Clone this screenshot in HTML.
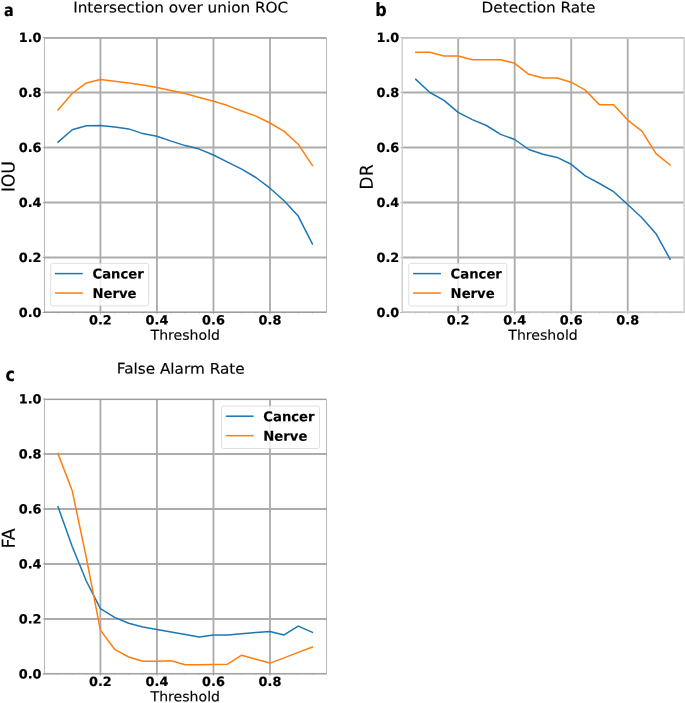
<!DOCTYPE html>
<html lang="en">
<head>
<meta charset="utf-8">
<title>ROC curves</title>
<style>
html,body{margin:0;padding:0;background:#ffffff;}
body{width:685px;height:703px;overflow:hidden;}
svg{display:block;}
svg text{font-family:"DejaVu Sans", "Liberation Sans", sans-serif;fill:#000000;}
</style>
</head>
<body>
<svg width="685" height="703" viewBox="0 0 685 703">
<defs><filter id="soft" x="0" y="0" width="685" height="703" filterUnits="userSpaceOnUse"><feGaussianBlur stdDeviation="0.36"/></filter></defs>
<rect x="0" y="0" width="685" height="703" fill="#ffffff"/>
<g filter="url(#soft)">
<rect x="0" y="0" width="685" height="703" fill="#ffffff"/>
<line x1="100.42" y1="37.68" x2="100.42" y2="312.78" stroke="#acacac" stroke-width="1.85"/>
<line x1="100.42" y1="312.48" x2="100.42" y2="314.18" stroke="#a0a0a0" stroke-width="0.9"/>
<line x1="156.94" y1="37.68" x2="156.94" y2="312.78" stroke="#acacac" stroke-width="1.85"/>
<line x1="156.94" y1="312.48" x2="156.94" y2="314.18" stroke="#a0a0a0" stroke-width="0.9"/>
<line x1="213.46" y1="37.68" x2="213.46" y2="312.78" stroke="#acacac" stroke-width="1.85"/>
<line x1="213.46" y1="312.48" x2="213.46" y2="314.18" stroke="#a0a0a0" stroke-width="0.9"/>
<line x1="269.98" y1="37.68" x2="269.98" y2="312.78" stroke="#acacac" stroke-width="1.85"/>
<line x1="269.98" y1="312.48" x2="269.98" y2="314.18" stroke="#a0a0a0" stroke-width="0.9"/>
<rect x="44.20" y="311.43" width="282.30" height="0.95" fill="#c4c4c4"/>
<line x1="42.80" y1="312.53" x2="326.50" y2="312.53" stroke="#8e8e8e" stroke-width="0.85"/>
<line x1="58.03" y1="312.78" x2="58.03" y2="313.48" stroke="#a0a0a0" stroke-width="0.8"/>
<line x1="72.16" y1="312.78" x2="72.16" y2="313.48" stroke="#a0a0a0" stroke-width="0.8"/>
<line x1="86.29" y1="312.78" x2="86.29" y2="313.48" stroke="#a0a0a0" stroke-width="0.8"/>
<line x1="114.55" y1="312.78" x2="114.55" y2="313.48" stroke="#a0a0a0" stroke-width="0.8"/>
<line x1="128.68" y1="312.78" x2="128.68" y2="313.48" stroke="#a0a0a0" stroke-width="0.8"/>
<line x1="142.81" y1="312.78" x2="142.81" y2="313.48" stroke="#a0a0a0" stroke-width="0.8"/>
<line x1="171.07" y1="312.78" x2="171.07" y2="313.48" stroke="#a0a0a0" stroke-width="0.8"/>
<line x1="185.20" y1="312.78" x2="185.20" y2="313.48" stroke="#a0a0a0" stroke-width="0.8"/>
<line x1="199.33" y1="312.78" x2="199.33" y2="313.48" stroke="#a0a0a0" stroke-width="0.8"/>
<line x1="227.59" y1="312.78" x2="227.59" y2="313.48" stroke="#a0a0a0" stroke-width="0.8"/>
<line x1="241.72" y1="312.78" x2="241.72" y2="313.48" stroke="#a0a0a0" stroke-width="0.8"/>
<line x1="255.85" y1="312.78" x2="255.85" y2="313.48" stroke="#a0a0a0" stroke-width="0.8"/>
<line x1="284.11" y1="312.78" x2="284.11" y2="313.48" stroke="#a0a0a0" stroke-width="0.8"/>
<line x1="298.24" y1="312.78" x2="298.24" y2="313.48" stroke="#a0a0a0" stroke-width="0.8"/>
<line x1="312.37" y1="312.78" x2="312.37" y2="313.48" stroke="#a0a0a0" stroke-width="0.8"/>
<line x1="42.80" y1="312.48" x2="44.50" y2="312.48" stroke="#a0a0a0" stroke-width="0.9"/>
<line x1="44.20" y1="257.48" x2="326.50" y2="257.48" stroke="#acacac" stroke-width="1.85"/>
<line x1="42.80" y1="257.48" x2="44.50" y2="257.48" stroke="#a0a0a0" stroke-width="0.9"/>
<line x1="44.20" y1="202.48" x2="326.50" y2="202.48" stroke="#acacac" stroke-width="1.85"/>
<line x1="42.80" y1="202.48" x2="44.50" y2="202.48" stroke="#a0a0a0" stroke-width="0.9"/>
<line x1="44.20" y1="147.48" x2="326.50" y2="147.48" stroke="#acacac" stroke-width="1.85"/>
<line x1="42.80" y1="147.48" x2="44.50" y2="147.48" stroke="#a0a0a0" stroke-width="0.9"/>
<line x1="44.20" y1="92.48" x2="326.50" y2="92.48" stroke="#acacac" stroke-width="1.85"/>
<line x1="42.80" y1="92.48" x2="44.50" y2="92.48" stroke="#a0a0a0" stroke-width="0.9"/>
<rect x="44.20" y="37.03" width="282.30" height="1.55" fill="#acacac"/>
<line x1="42.80" y1="37.48" x2="44.50" y2="37.48" stroke="#a0a0a0" stroke-width="0.9"/>
<polyline points="58.0,142.1 72.2,129.7 86.3,125.8 100.4,125.4 114.6,127.0 128.7,128.9 142.8,133.6 156.9,136.2 171.1,141.1 185.2,145.6 199.3,149.1 213.5,155.0 227.6,162.1 241.7,169.1 255.9,177.5 270.0,188.2 284.1,200.8 298.2,216.1 312.4,244.0" fill="none" stroke="#1f77b4" stroke-width="1.52" stroke-linejoin="round" stroke-linecap="square"/>
<polyline points="58.0,109.9 72.2,93.5 86.3,82.9 100.4,79.6 114.6,81.2 128.7,83.1 142.8,84.9 156.9,87.4 171.1,90.4 185.2,93.4 199.3,97.6 213.5,101.2 227.6,105.6 241.7,111.0 255.9,116.1 270.0,123.0 284.1,131.4 298.2,144.2 312.4,165.5" fill="none" stroke="#ff7f0e" stroke-width="1.52" stroke-linejoin="round" stroke-linecap="square"/>
<rect x="44.50" y="38.18" width="281.85" height="273.80" fill="none" stroke="#9a9a9a" stroke-width="0.7"/>
<text transform="translate(41.50,317.03) rotate(0.03) scale(1.005,1)" text-anchor="end" font-weight="bold" stroke="#000" stroke-width="0.2" font-size="12.8">0.0</text>
<text transform="translate(41.50,262.03) rotate(0.03) scale(1.005,1)" text-anchor="end" font-weight="bold" stroke="#000" stroke-width="0.2" font-size="12.8">0.2</text>
<text transform="translate(41.50,207.03) rotate(0.03) scale(1.005,1)" text-anchor="end" font-weight="bold" stroke="#000" stroke-width="0.2" font-size="12.8">0.4</text>
<text transform="translate(41.50,152.03) rotate(0.03) scale(1.005,1)" text-anchor="end" font-weight="bold" stroke="#000" stroke-width="0.2" font-size="12.8">0.6</text>
<text transform="translate(41.50,97.03) rotate(0.03) scale(1.005,1)" text-anchor="end" font-weight="bold" stroke="#000" stroke-width="0.2" font-size="12.8">0.8</text>
<text transform="translate(41.50,42.03) rotate(0.03) scale(1.005,1)" text-anchor="end" font-weight="bold" stroke="#000" stroke-width="0.2" font-size="12.8">1.0</text>
<text transform="translate(100.42,324.48) rotate(0.03) scale(1.005,1)" text-anchor="middle" font-weight="bold" stroke="#000" stroke-width="0.2" font-size="12.8">0.2</text>
<text transform="translate(156.94,324.48) rotate(0.03) scale(1.005,1)" text-anchor="middle" font-weight="bold" stroke="#000" stroke-width="0.2" font-size="12.8">0.4</text>
<text transform="translate(213.46,324.48) rotate(0.03) scale(1.005,1)" text-anchor="middle" font-weight="bold" stroke="#000" stroke-width="0.2" font-size="12.8">0.6</text>
<text transform="translate(269.98,324.48) rotate(0.03) scale(1.005,1)" text-anchor="middle" font-weight="bold" stroke="#000" stroke-width="0.2" font-size="12.8">0.8</text>
<text transform="translate(185.30,339.78) rotate(0.03) scale(1.037,1)" text-anchor="middle" stroke="#000" stroke-width="0.14" font-size="13.6">Threshold</text>
<text transform="translate(14.55,176.70) rotate(-89.97) scale(0.97,1)" text-anchor="middle" stroke="#000" stroke-width="0.14" font-size="17.8">IOU</text>
<text transform="translate(180.70,12.45) rotate(0.03) scale(1.045,1)" text-anchor="middle" stroke="#000" stroke-width="0.14" font-size="14.6">Intersection over union ROC</text>
<rect x="50.7" y="263.4" width="98" height="42.5" rx="2.2" ry="2.2" fill="#ffffff" fill-opacity="0.8" stroke="#cccccc" stroke-opacity="0.8" stroke-width="0.8"/>
<line x1="55.0" y1="273.6" x2="82.8" y2="273.6" stroke="#1f77b4" stroke-width="1.52"/>
<line x1="55.0" y1="293.05" x2="82.8" y2="293.05" stroke="#ff7f0e" stroke-width="1.52"/>
<text transform="translate(92.50,278.60) rotate(0.03) scale(0.978,1)" font-weight="bold" stroke="#000" stroke-width="0.14" font-size="13.5">Cancer</text>
<text transform="translate(92.50,298.10) rotate(0.03) scale(0.978,1)" font-weight="bold" stroke="#000" stroke-width="0.14" font-size="13.5">Nerve</text>
<line x1="458.17" y1="37.68" x2="458.17" y2="312.78" stroke="#acacac" stroke-width="1.85"/>
<line x1="458.17" y1="312.48" x2="458.17" y2="314.18" stroke="#a0a0a0" stroke-width="0.9"/>
<line x1="514.69" y1="37.68" x2="514.69" y2="312.78" stroke="#acacac" stroke-width="1.85"/>
<line x1="514.69" y1="312.48" x2="514.69" y2="314.18" stroke="#a0a0a0" stroke-width="0.9"/>
<line x1="571.21" y1="37.68" x2="571.21" y2="312.78" stroke="#acacac" stroke-width="1.85"/>
<line x1="571.21" y1="312.48" x2="571.21" y2="314.18" stroke="#a0a0a0" stroke-width="0.9"/>
<line x1="627.73" y1="37.68" x2="627.73" y2="312.78" stroke="#acacac" stroke-width="1.85"/>
<line x1="627.73" y1="312.48" x2="627.73" y2="314.18" stroke="#a0a0a0" stroke-width="0.9"/>
<rect x="401.95" y="311.43" width="282.30" height="0.95" fill="#c4c4c4"/>
<line x1="400.55" y1="312.53" x2="684.25" y2="312.53" stroke="#8e8e8e" stroke-width="0.85"/>
<line x1="415.78" y1="312.78" x2="415.78" y2="313.48" stroke="#a0a0a0" stroke-width="0.8"/>
<line x1="429.91" y1="312.78" x2="429.91" y2="313.48" stroke="#a0a0a0" stroke-width="0.8"/>
<line x1="444.04" y1="312.78" x2="444.04" y2="313.48" stroke="#a0a0a0" stroke-width="0.8"/>
<line x1="472.30" y1="312.78" x2="472.30" y2="313.48" stroke="#a0a0a0" stroke-width="0.8"/>
<line x1="486.43" y1="312.78" x2="486.43" y2="313.48" stroke="#a0a0a0" stroke-width="0.8"/>
<line x1="500.56" y1="312.78" x2="500.56" y2="313.48" stroke="#a0a0a0" stroke-width="0.8"/>
<line x1="528.82" y1="312.78" x2="528.82" y2="313.48" stroke="#a0a0a0" stroke-width="0.8"/>
<line x1="542.95" y1="312.78" x2="542.95" y2="313.48" stroke="#a0a0a0" stroke-width="0.8"/>
<line x1="557.08" y1="312.78" x2="557.08" y2="313.48" stroke="#a0a0a0" stroke-width="0.8"/>
<line x1="585.34" y1="312.78" x2="585.34" y2="313.48" stroke="#a0a0a0" stroke-width="0.8"/>
<line x1="599.47" y1="312.78" x2="599.47" y2="313.48" stroke="#a0a0a0" stroke-width="0.8"/>
<line x1="613.60" y1="312.78" x2="613.60" y2="313.48" stroke="#a0a0a0" stroke-width="0.8"/>
<line x1="641.86" y1="312.78" x2="641.86" y2="313.48" stroke="#a0a0a0" stroke-width="0.8"/>
<line x1="655.99" y1="312.78" x2="655.99" y2="313.48" stroke="#a0a0a0" stroke-width="0.8"/>
<line x1="670.12" y1="312.78" x2="670.12" y2="313.48" stroke="#a0a0a0" stroke-width="0.8"/>
<line x1="400.55" y1="312.48" x2="402.25" y2="312.48" stroke="#a0a0a0" stroke-width="0.9"/>
<line x1="401.95" y1="257.48" x2="684.25" y2="257.48" stroke="#acacac" stroke-width="1.85"/>
<line x1="400.55" y1="257.48" x2="402.25" y2="257.48" stroke="#a0a0a0" stroke-width="0.9"/>
<line x1="401.95" y1="202.48" x2="684.25" y2="202.48" stroke="#acacac" stroke-width="1.85"/>
<line x1="400.55" y1="202.48" x2="402.25" y2="202.48" stroke="#a0a0a0" stroke-width="0.9"/>
<line x1="401.95" y1="147.48" x2="684.25" y2="147.48" stroke="#acacac" stroke-width="1.85"/>
<line x1="400.55" y1="147.48" x2="402.25" y2="147.48" stroke="#a0a0a0" stroke-width="0.9"/>
<line x1="401.95" y1="92.48" x2="684.25" y2="92.48" stroke="#acacac" stroke-width="1.85"/>
<line x1="400.55" y1="92.48" x2="402.25" y2="92.48" stroke="#a0a0a0" stroke-width="0.9"/>
<rect x="401.95" y="37.03" width="282.30" height="1.55" fill="#acacac"/>
<line x1="400.55" y1="37.48" x2="402.25" y2="37.48" stroke="#a0a0a0" stroke-width="0.9"/>
<polyline points="415.8,79.4 429.9,92.5 444.0,100.4 458.2,112.4 472.3,119.6 486.4,125.5 500.6,134.4 514.7,139.5 528.8,149.5 543.0,154.3 557.1,157.4 571.2,164.3 585.3,175.8 599.5,183.5 613.6,191.7 627.7,204.5 641.9,217.8 656.0,233.7 670.1,259.3" fill="none" stroke="#1f77b4" stroke-width="1.52" stroke-linejoin="round" stroke-linecap="square"/>
<polyline points="415.8,52.3 429.9,52.3 444.0,55.9 458.2,55.9 472.3,59.7 486.4,59.7 500.6,59.7 514.7,63.3 528.8,74.3 543.0,78.1 557.1,78.1 571.2,82.2 585.3,90.1 599.5,104.7 613.6,104.7 627.7,120.1 641.9,131.1 656.0,153.6 670.1,165.0" fill="none" stroke="#ff7f0e" stroke-width="1.52" stroke-linejoin="round" stroke-linecap="square"/>
<rect x="402.25" y="38.18" width="281.85" height="273.80" fill="none" stroke="#d0d0d0" stroke-width="1.5"/>
<text transform="translate(399.25,317.03) rotate(0.03) scale(1.005,1)" text-anchor="end" font-weight="bold" stroke="#000" stroke-width="0.2" font-size="12.8">0.0</text>
<text transform="translate(399.25,262.03) rotate(0.03) scale(1.005,1)" text-anchor="end" font-weight="bold" stroke="#000" stroke-width="0.2" font-size="12.8">0.2</text>
<text transform="translate(399.25,207.03) rotate(0.03) scale(1.005,1)" text-anchor="end" font-weight="bold" stroke="#000" stroke-width="0.2" font-size="12.8">0.4</text>
<text transform="translate(399.25,152.03) rotate(0.03) scale(1.005,1)" text-anchor="end" font-weight="bold" stroke="#000" stroke-width="0.2" font-size="12.8">0.6</text>
<text transform="translate(399.25,97.03) rotate(0.03) scale(1.005,1)" text-anchor="end" font-weight="bold" stroke="#000" stroke-width="0.2" font-size="12.8">0.8</text>
<text transform="translate(399.25,42.03) rotate(0.03) scale(1.005,1)" text-anchor="end" font-weight="bold" stroke="#000" stroke-width="0.2" font-size="12.8">1.0</text>
<text transform="translate(458.17,324.48) rotate(0.03) scale(1.005,1)" text-anchor="middle" font-weight="bold" stroke="#000" stroke-width="0.2" font-size="12.8">0.2</text>
<text transform="translate(514.69,324.48) rotate(0.03) scale(1.005,1)" text-anchor="middle" font-weight="bold" stroke="#000" stroke-width="0.2" font-size="12.8">0.4</text>
<text transform="translate(571.21,324.48) rotate(0.03) scale(1.005,1)" text-anchor="middle" font-weight="bold" stroke="#000" stroke-width="0.2" font-size="12.8">0.6</text>
<text transform="translate(627.73,324.48) rotate(0.03) scale(1.005,1)" text-anchor="middle" font-weight="bold" stroke="#000" stroke-width="0.2" font-size="12.8">0.8</text>
<text transform="translate(543.05,339.78) rotate(0.03) scale(1.037,1)" text-anchor="middle" stroke="#000" stroke-width="0.14" font-size="13.6">Threshold</text>
<text transform="translate(372.65,177.00) rotate(-89.97) scale(0.97,1)" text-anchor="middle" stroke="#000" stroke-width="0.14" font-size="17.8">DR</text>
<text transform="translate(538.50,12.45) rotate(0.03) scale(1.045,1)" text-anchor="middle" stroke="#000" stroke-width="0.14" font-size="14.6">Detection Rate</text>
<rect x="408.8" y="263.4" width="98" height="42.5" rx="2.2" ry="2.2" fill="#ffffff" fill-opacity="0.8" stroke="#cccccc" stroke-opacity="0.8" stroke-width="0.8"/>
<line x1="413.1" y1="273.6" x2="440.9" y2="273.6" stroke="#1f77b4" stroke-width="1.52"/>
<line x1="413.1" y1="293.05" x2="440.9" y2="293.05" stroke="#ff7f0e" stroke-width="1.52"/>
<text transform="translate(450.60,278.60) rotate(0.03) scale(0.978,1)" font-weight="bold" stroke="#000" stroke-width="0.14" font-size="13.5">Cancer</text>
<text transform="translate(450.60,298.10) rotate(0.03) scale(0.978,1)" font-weight="bold" stroke="#000" stroke-width="0.14" font-size="13.5">Nerve</text>
<line x1="100.42" y1="399.17" x2="100.42" y2="674.27" stroke="#acacac" stroke-width="1.85"/>
<line x1="100.42" y1="673.97" x2="100.42" y2="675.67" stroke="#a0a0a0" stroke-width="0.9"/>
<line x1="156.94" y1="399.17" x2="156.94" y2="674.27" stroke="#acacac" stroke-width="1.85"/>
<line x1="156.94" y1="673.97" x2="156.94" y2="675.67" stroke="#a0a0a0" stroke-width="0.9"/>
<line x1="213.46" y1="399.17" x2="213.46" y2="674.27" stroke="#acacac" stroke-width="1.85"/>
<line x1="213.46" y1="673.97" x2="213.46" y2="675.67" stroke="#a0a0a0" stroke-width="0.9"/>
<line x1="269.98" y1="399.17" x2="269.98" y2="674.27" stroke="#acacac" stroke-width="1.85"/>
<line x1="269.98" y1="673.97" x2="269.98" y2="675.67" stroke="#a0a0a0" stroke-width="0.9"/>
<rect x="44.20" y="672.92" width="282.30" height="0.95" fill="#c4c4c4"/>
<line x1="42.80" y1="674.02" x2="326.50" y2="674.02" stroke="#8e8e8e" stroke-width="0.85"/>
<line x1="58.03" y1="674.27" x2="58.03" y2="674.97" stroke="#a0a0a0" stroke-width="0.8"/>
<line x1="72.16" y1="674.27" x2="72.16" y2="674.97" stroke="#a0a0a0" stroke-width="0.8"/>
<line x1="86.29" y1="674.27" x2="86.29" y2="674.97" stroke="#a0a0a0" stroke-width="0.8"/>
<line x1="114.55" y1="674.27" x2="114.55" y2="674.97" stroke="#a0a0a0" stroke-width="0.8"/>
<line x1="128.68" y1="674.27" x2="128.68" y2="674.97" stroke="#a0a0a0" stroke-width="0.8"/>
<line x1="142.81" y1="674.27" x2="142.81" y2="674.97" stroke="#a0a0a0" stroke-width="0.8"/>
<line x1="171.07" y1="674.27" x2="171.07" y2="674.97" stroke="#a0a0a0" stroke-width="0.8"/>
<line x1="185.20" y1="674.27" x2="185.20" y2="674.97" stroke="#a0a0a0" stroke-width="0.8"/>
<line x1="199.33" y1="674.27" x2="199.33" y2="674.97" stroke="#a0a0a0" stroke-width="0.8"/>
<line x1="227.59" y1="674.27" x2="227.59" y2="674.97" stroke="#a0a0a0" stroke-width="0.8"/>
<line x1="241.72" y1="674.27" x2="241.72" y2="674.97" stroke="#a0a0a0" stroke-width="0.8"/>
<line x1="255.85" y1="674.27" x2="255.85" y2="674.97" stroke="#a0a0a0" stroke-width="0.8"/>
<line x1="284.11" y1="674.27" x2="284.11" y2="674.97" stroke="#a0a0a0" stroke-width="0.8"/>
<line x1="298.24" y1="674.27" x2="298.24" y2="674.97" stroke="#a0a0a0" stroke-width="0.8"/>
<line x1="312.37" y1="674.27" x2="312.37" y2="674.97" stroke="#a0a0a0" stroke-width="0.8"/>
<line x1="42.80" y1="673.97" x2="44.50" y2="673.97" stroke="#a0a0a0" stroke-width="0.9"/>
<line x1="44.20" y1="618.97" x2="326.50" y2="618.97" stroke="#acacac" stroke-width="1.85"/>
<line x1="42.80" y1="618.97" x2="44.50" y2="618.97" stroke="#a0a0a0" stroke-width="0.9"/>
<line x1="44.20" y1="563.97" x2="326.50" y2="563.97" stroke="#acacac" stroke-width="1.85"/>
<line x1="42.80" y1="563.97" x2="44.50" y2="563.97" stroke="#a0a0a0" stroke-width="0.9"/>
<line x1="44.20" y1="508.97" x2="326.50" y2="508.97" stroke="#acacac" stroke-width="1.85"/>
<line x1="42.80" y1="508.97" x2="44.50" y2="508.97" stroke="#a0a0a0" stroke-width="0.9"/>
<line x1="44.20" y1="453.97" x2="326.50" y2="453.97" stroke="#acacac" stroke-width="1.85"/>
<line x1="42.80" y1="453.97" x2="44.50" y2="453.97" stroke="#a0a0a0" stroke-width="0.9"/>
<rect x="44.20" y="398.52" width="282.30" height="1.55" fill="#acacac"/>
<line x1="42.80" y1="398.97" x2="44.50" y2="398.97" stroke="#a0a0a0" stroke-width="0.9"/>
<polyline points="58.0,506.8 72.2,546.5 86.3,581.0 100.4,608.6 114.6,617.4 128.7,623.3 142.8,627.0 156.9,629.4 171.1,632.0 185.2,634.4 199.3,637.1 213.5,634.9 227.6,634.9 241.7,633.8 255.9,632.5 270.0,631.4 284.1,634.9 298.2,626.1 312.4,632.3" fill="none" stroke="#1f77b4" stroke-width="1.52" stroke-linejoin="round" stroke-linecap="square"/>
<polyline points="58.0,453.6 72.2,490.7 86.3,557.6 100.4,630.1 114.6,649.3 128.7,657.0 142.8,661.2 156.9,661.2 171.1,660.7 185.2,664.7 199.3,664.7 213.5,664.4 227.6,664.2 241.7,655.2 255.9,659.2 270.0,663.1 284.1,657.9 298.2,652.4 312.4,647.1" fill="none" stroke="#ff7f0e" stroke-width="1.52" stroke-linejoin="round" stroke-linecap="square"/>
<rect x="44.50" y="399.67" width="281.85" height="273.80" fill="none" stroke="#9a9a9a" stroke-width="0.7"/>
<text transform="translate(41.50,678.52) rotate(0.03) scale(1.005,1)" text-anchor="end" font-weight="bold" stroke="#000" stroke-width="0.2" font-size="12.8">0.0</text>
<text transform="translate(41.50,623.52) rotate(0.03) scale(1.005,1)" text-anchor="end" font-weight="bold" stroke="#000" stroke-width="0.2" font-size="12.8">0.2</text>
<text transform="translate(41.50,568.52) rotate(0.03) scale(1.005,1)" text-anchor="end" font-weight="bold" stroke="#000" stroke-width="0.2" font-size="12.8">0.4</text>
<text transform="translate(41.50,513.52) rotate(0.03) scale(1.005,1)" text-anchor="end" font-weight="bold" stroke="#000" stroke-width="0.2" font-size="12.8">0.6</text>
<text transform="translate(41.50,458.52) rotate(0.03) scale(1.005,1)" text-anchor="end" font-weight="bold" stroke="#000" stroke-width="0.2" font-size="12.8">0.8</text>
<text transform="translate(41.50,403.52) rotate(0.03) scale(1.005,1)" text-anchor="end" font-weight="bold" stroke="#000" stroke-width="0.2" font-size="12.8">1.0</text>
<text transform="translate(100.42,685.97) rotate(0.03) scale(1.005,1)" text-anchor="middle" font-weight="bold" stroke="#000" stroke-width="0.2" font-size="12.8">0.2</text>
<text transform="translate(156.94,685.97) rotate(0.03) scale(1.005,1)" text-anchor="middle" font-weight="bold" stroke="#000" stroke-width="0.2" font-size="12.8">0.4</text>
<text transform="translate(213.46,685.97) rotate(0.03) scale(1.005,1)" text-anchor="middle" font-weight="bold" stroke="#000" stroke-width="0.2" font-size="12.8">0.6</text>
<text transform="translate(269.98,685.97) rotate(0.03) scale(1.005,1)" text-anchor="middle" font-weight="bold" stroke="#000" stroke-width="0.2" font-size="12.8">0.8</text>
<text transform="translate(185.30,701.27) rotate(0.03) scale(1.037,1)" text-anchor="middle" stroke="#000" stroke-width="0.14" font-size="13.6">Threshold</text>
<text transform="translate(14.75,538.40) rotate(-89.97) scale(0.97,1)" text-anchor="middle" stroke="#000" stroke-width="0.14" font-size="17.8">FA</text>
<text transform="translate(180.70,373.65) rotate(0.03) scale(1.045,1)" text-anchor="middle" stroke="#000" stroke-width="0.14" font-size="14.6">False Alarm Rate</text>
<rect x="221.5" y="406.0" width="98" height="42.5" rx="2.2" ry="2.2" fill="#ffffff" fill-opacity="0.8" stroke="#cccccc" stroke-opacity="0.8" stroke-width="0.8"/>
<line x1="225.8" y1="416.2" x2="253.6" y2="416.2" stroke="#1f77b4" stroke-width="1.52"/>
<line x1="225.8" y1="435.65" x2="253.6" y2="435.65" stroke="#ff7f0e" stroke-width="1.52"/>
<text transform="translate(263.30,421.20) rotate(0.03) scale(0.978,1)" font-weight="bold" stroke="#000" stroke-width="0.14" font-size="13.5">Cancer</text>
<text transform="translate(263.30,440.70) rotate(0.03) scale(0.978,1)" font-weight="bold" stroke="#000" stroke-width="0.14" font-size="13.5">Nerve</text>
<text transform="translate(4.00,16.20) rotate(0.03) scale(0.86,1)" font-weight="bold" stroke="#000" stroke-width="0.14" font-family='"Liberation Sans", "DejaVu Sans", sans-serif' font-size="16.8">a</text>
<text transform="translate(375.20,16.20) rotate(0.03) scale(0.86,1)" font-weight="bold" stroke="#000" stroke-width="0.14" font-family='"Liberation Sans", "DejaVu Sans", sans-serif' font-size="18.5">b</text>
<text transform="translate(5.60,380.70) rotate(0.03) scale(0.85,1)" font-weight="bold" stroke="#000" stroke-width="0.14" font-family='"Liberation Sans", "DejaVu Sans", sans-serif' font-size="18.7">c</text>
</g>
</svg>
</body>
</html>
